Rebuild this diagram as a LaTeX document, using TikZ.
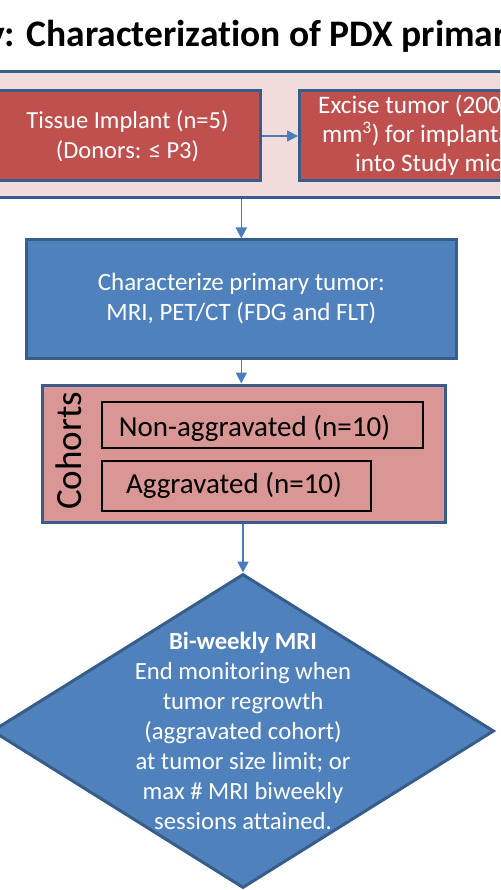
\documentclass[tikz,border=0pt]{standalone}
\usepackage{fontspec}
\setmainfont{Carlito}[Ligatures={NoCommon}]
\usetikzlibrary{shapes.geometric,arrows.meta}
\definecolor{bordblue}{HTML}{385D8A}
\definecolor{arrblue}{HTML}{4A7EBB}
\definecolor{boxred}{HTML}{C0504D}
\definecolor{boxblue}{HTML}{4F81BD}
\definecolor{bandpink}{HTML}{F2DCDB}
\definecolor{cohpink}{HTML}{D99694}
\tikzset{
  bandbox/.style={draw=bordblue, line width=3pt, fill=bandpink, inner sep=0pt},
  redbox/.style={draw=bordblue, line width=3pt, fill=boxred, inner sep=0pt, text=white, align=center,
    font=\fontsize{24.5}{29.5}\selectfont},
  bluebox/.style={draw=bordblue, line width=3pt, fill=boxblue, inner sep=0pt, text=white, align=center,
    font=\fontsize{25}{30}\selectfont},
  cohbox/.style={draw=bordblue, line width=3pt, fill=cohpink, inner sep=0pt},
  subbox/.style={draw=black, line width=1.2pt, inner sep=0pt, font=\fontsize{29}{34}\selectfont},
  redtext/.style={text=white, inner sep=0pt, font=\fontsize{25.2}{30}\selectfont},
  arr/.style={draw=arrblue, line width=1.6pt, -{Triangle[length=11pt,width=11pt]}},
}
\begin{document}
\begin{tikzpicture}[x=1pt,y=-1pt]
\useasboundingbox (0,0) rectangle (500,890);
\clip (0,0) rectangle (500,890);
% title
\node[anchor=base west, inner sep=0pt, font=\bfseries\fontsize{37.5}{44}\selectfont] (title) at (-13,46.7) {y: Characterization of PDX primar};
% band
\node[bandbox, minimum width=540pt, minimum height=126pt] (band) at (250,135) {};
\node[redbox, minimum width=265pt, minimum height=90pt] (tissue) at (127.5,136) {Tissue Implant (n=5)\\(Donors: ≤ P3)};
\node[redbox, minimum width=265pt, minimum height=90pt, anchor=west] (excise) at (298,136) {};
\node[redtext, anchor=base west] (ex1) at (318,113.3) {Excise tumor (200};
\node[redtext, anchor=base west] (ex2) at (322,142.7) {mm\textsuperscript{3}) for implanta};
\node[redtext, anchor=base west] (ex3) at (355,171.7) {into Study mic};
\draw[arr] (tissue.east) -- (excise.west);
% characterize
\node[bluebox, minimum width=430pt, minimum height=118pt] (char) at (241.3,299) {Characterize primary tumor:\\MRI, PET/CT (FDG and FLT)};
\draw[arr] (char.north |- band.south) -- (char.north);
% cohorts
\node[cohbox, minimum width=403pt, minimum height=137pt] (coh) at (243.5,453.5) {};
\node[rotate=90, inner sep=0pt, font=\fontsize{37}{44}\selectfont] (cohlabel) at (69,451) {Cohorts};
\node[subbox, minimum width=321pt, minimum height=46pt, text height=23.4pt, text depth=0pt] (nonagg) at (262.5,425) {Non-aggravated (n=10)\hspace*{16pt}};
\node[subbox, minimum width=269pt, minimum height=50pt, text height=14.6pt, text depth=0pt] (agg) at (236.5,486) {Aggravated (n=10)\hspace*{5pt}};
\draw[arr] (char.south) -- (char.south |- coh.north);
% diamond
\node[diamond, draw=bordblue, line width=3pt, fill=boxblue, minimum width=502pt, minimum height=314pt, inner sep=0pt] (mri) at (243,731) {};
\node[align=center, text=white, inner sep=0pt, font=\fontsize{24.7}{30}\selectfont] (mritext) at (243,731)
  {\textbf{Bi-weekly MRI}\\End monitoring when\\tumor regrowth\\(aggravated cohort)\\at tumor size limit; or\\max \# MRI biweekly\\sessions attained.};
\draw[arr] (mri.north |- coh.south) -- (mri.north);
\end{tikzpicture}
\end{document}
